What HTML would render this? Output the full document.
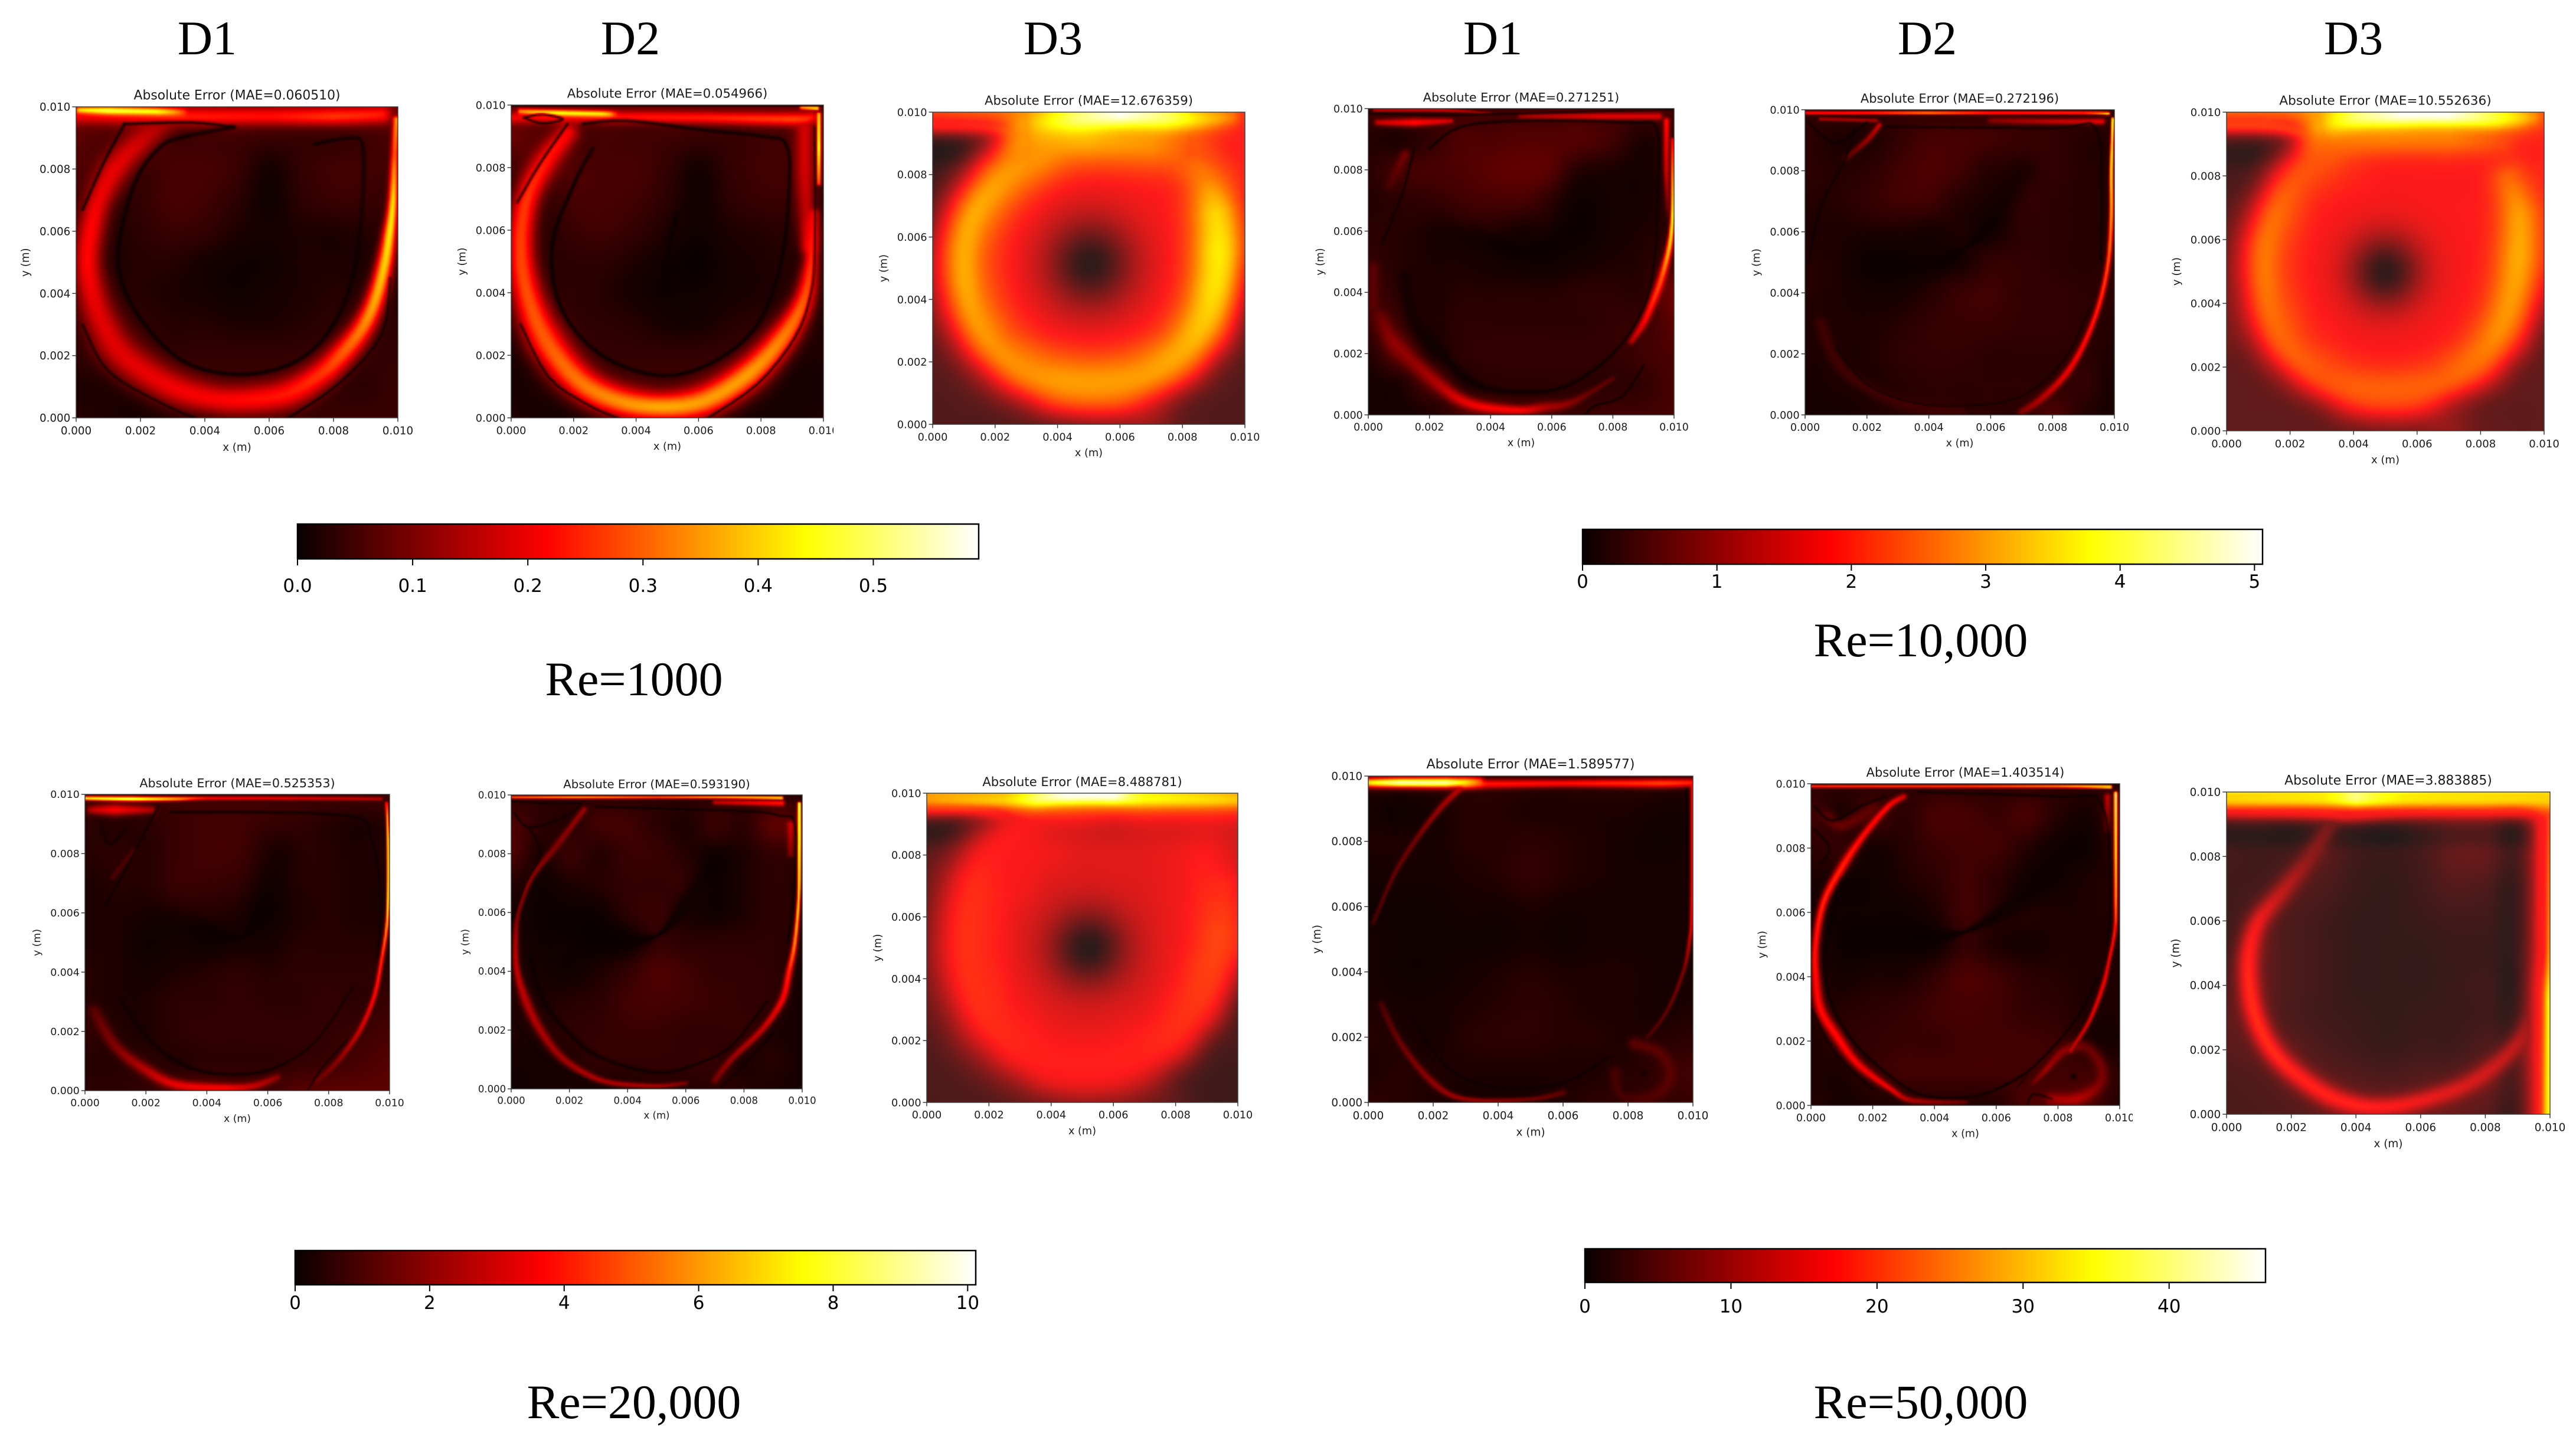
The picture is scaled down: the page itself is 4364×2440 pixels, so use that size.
<!DOCTYPE html>
<html lang="en">
<head>
<meta charset="utf-8">
<title>Absolute Error Heatmaps for Lid-Driven Cavity</title>
<style>
html,body{margin:0;padding:0;background:#fff;}
#page{position:relative;width:4364px;height:2440px;background:#fff;overflow:hidden;}
canvas{position:absolute;display:block;}
svg#axes{position:absolute;left:0;top:0;}
.head{position:absolute;font-family:"Liberation Serif",serif;font-size:82px;line-height:82px;color:#000;transform:translateX(-50%);white-space:nowrap;}
</style>
</head>
<body>
<div id="page">
  <div class="head" style="left:351px;top:24px;">D1</div>
  <div class="head" style="left:1068px;top:24px;">D2</div>
  <div class="head" style="left:1784px;top:24px;">D3</div>
  <div class="head" style="left:2529px;top:24px;">D1</div>
  <div class="head" style="left:3265px;top:24px;">D2</div>
  <div class="head" style="left:3987px;top:24px;">D3</div>
  <div class="head" style="left:1074px;top:1110px;">Re=1000</div>
  <div class="head" style="left:3254px;top:1044px;">Re=10,000</div>
  <div class="head" style="left:1074px;top:2335px;">Re=20,000</div>
  <div class="head" style="left:3254px;top:2335px;">Re=50,000</div>
  <svg id="axes" width="4364" height="2440" viewBox="0 0 4364 2440">
    <defs>
      <linearGradient id="hotGradient" x1="0" x2="1" y1="0" y2="0">
        <stop offset="0" stop-color="#0a0000"/>
        <stop offset="0.365" stop-color="#ff0000"/>
        <stop offset="0.746" stop-color="#ffff00"/>
        <stop offset="1" stop-color="#ffffff"/>
      </linearGradient>
    </defs>
  </svg>
</div>
<script>
/* ---------- shared axis data ---------- */
const axisTickValues = [0, 2, 4, 6, 8, 10];
const axisTickLabels = ['0.000', '0.002', '0.004', '0.006', '0.008', '0.010'];
const panelTitles = ['Absolute Error (MAE=0.060510)', 'Absolute Error (MAE=0.054966)', 'Absolute Error (MAE=12.676359)',
  'Absolute Error (MAE=0.271251)', 'Absolute Error (MAE=0.272196)', 'Absolute Error (MAE=10.552636)',
  'Absolute Error (MAE=0.525353)', 'Absolute Error (MAE=0.593190)', 'Absolute Error (MAE=8.488781)',
  'Absolute Error (MAE=1.589577)', 'Absolute Error (MAE=1.403514)', 'Absolute Error (MAE=3.883885)'];

/* ---------- colourbar data ---------- */
const cbar1000Ticks = [0, 0.1, 0.2, 0.3, 0.4, 0.5];
const cbar1000Labels = ['0.0', '0.1', '0.2', '0.3', '0.4', '0.5'];
const cbar10000Ticks = [0, 1, 2, 3, 4, 5];
const cbar10000Labels = ['0', '1', '2', '3', '4', '5'];
const cbar20000Ticks = [0, 2, 4, 6, 8, 10];
const cbar20000Labels = ['0', '2', '4', '6', '8', '10'];
const cbar50000Ticks = [0, 10, 20, 30, 40];
const cbar50000Labels = ['0', '10', '20', '30', '40'];
const cbarMaxima = [0.5915, 5.06, 10.12, 46.6];

/* ---------- field data: level 0-100 of the colormap; grid rows y=10..0 mm, cols x=0..10 mm;
   ridges rows [x mm, y mm, level, spread mm]; valleys rows [x mm, y mm, spread mm, depth] ---------- */
const re1000D1Grid = [
[15,15,15,15,15,15,15,15,15,15,15],
[12,10,10,8,8,8,7,7,7,8,10],
[10,6,6,9,9,7,2,6,8,8,8],
[6,4,6,9,8,5,1,5,7,7,6],
[3,3,5,7,6,3,2,3,3,4,5],
[3,3,4,4,2,1,1,3,3,3,4],
[4,4,4,3,2,1,2,3,4,4,4],
[5,5,5,4,4,3,3,4,5,5,5],
[5,5,5,5,6,6,6,6,6,6,6],
[3,3,3,5,6,6,6,6,5,5,7],
[4,3,2,3,3,5,6,6,7,7,7]];
const re1000D1Ridges = [
[[0,9.75,36,.28],[3,9.7,40,.28],[6,9.7,38,.28],[8,9.7,44,.28],[9.5,9.75,40,.28]],
[[.1,9.9,70,.1],[1,9.88,82,.12],[2.5,9.85,76,.12],[3.3,9.82,48,.12]],
[[2.6,9.4,24,.4],[1.9,8.8,30,.45],[1.2,8,33,.5],[.7,7,34,.45],[.45,6,37,.45],[.35,5,37,.45],[.5,4,34,.5],[.8,3.1,32,.55],[1.3,2.2,32,.6],[2.1,1.5,33,.6],[3.2,.9,35,.55],[4.4,.6,36,.5],[5.5,.6,38,.5],[6.6,.8,40,.5],[7.6,1.4,44,.45],[8.3,2.1,50,.4],[8.9,2.9,56,.35],[9.3,3.8,62,.3],[9.6,5,68,.25],[9.75,6,72,.2],[9.85,7,70,.15],[9.9,8.5,50,.12],[9.95,9.6,60,.1]]];
const re1000D1Valleys = [
[[4.9,9.35,.07,.8],[3.4,9.05,.08,.8],[2.6,8.7,.08,.8],[1.8,7.5,.07,.9],[1.3,5.2,.07,.9],[1.8,3.5,.07,.9],[3.2,1.9,.07,.9],[4.9,1.4,.07,.9],[6.6,1.7,.07,.9],[7.8,2.7,.07,.9],[8.6,4.5,.08,.7],[8.9,7,.08,.6],[8.9,8.75,.06,.8],[8.5,9,.06,.8],[7.4,8.8,.06,.8]],
[[1.5,9.45,.05,.85],[3.6,9.5,.05,.85],[4.9,9.35,.05,.8]],
[[1.5,9.45,.05,.85],[.85,8.2,.05,.85],[.2,6.7,.05,.85]],
[[.2,3,.04,.8],[1,1.5,.04,.8],[2.7,.45,.04,.8],[3.7,0,.04,.8]],
[[6.6,0,.04,.9],[8.2,1.14,.04,.9],[9.5,2.7,.04,.8],[9.75,4.5,.04,.7]]];

const re1000D2Grid = [
[12,12,12,12,12,12,12,12,12,12,12],
[14,10,8,9,8,8,7,7,8,9,10],
[8,8,10,9,9,6,2,6,8,8,8],
[3,5,9,9,8,5,1,5,7,7,5],
[3,4,7,8,6,3,1,3,4,5,5],
[3,4,5,5,3,1,0,2,3,4,3],
[3,4,5,4,2,1,1,2,3,4,3],
[3,4,5,5,4,2,2,4,5,5,3],
[2,3,5,6,6,6,6,6,6,3,3],
[2,3,3,5,7,7,7,6,4,2,2],
[3,2,2,2,3,4,4,3,2,2,3]];
const re1000D2Ridges = [
[[0,9.6,34,.2],[3,9.62,38,.2],[6,9.6,40,.2],[9,9.55,46,.22],[9.6,9.6,40,.2]],
[[.3,9.8,58,.09],[1.5,9.75,76,.1],[2.9,9.72,72,.1],[3.3,9.7,46,.1]],
[[9.3,9.92,60,.06],[9.8,9.9,78,.06]],
[[9.4,9.2,30,.3],[9.4,8,30,.32],[9.45,6.5,26,.3],[9.5,5.5,30,.25]],
[[1.8,9.1,36,.35],[1.1,8.2,40,.42],[.5,7,44,.42],[.3,5.5,46,.45],[.5,4,48,.5],[1.1,2.5,50,.6],[2.15,1.2,54,.55],[3.4,.55,58,.5],[4.8,.35,62,.45],[6.2,.55,60,.5],[7.6,1.4,60,.5],[8.65,2.5,56,.45],[9.35,3.7,50,.35],[9.6,5,42,.25],[9.68,6.5,36,.18]],
[[9.85,9.7,70,.07],[9.85,8.6,82,.07],[9.85,7.5,50,.07]]];
const re1000D2Valleys = [
[[0,10,.04,.9],[5,10,.04,.9],[10,10,.04,.9]],
[[.4,9.6,.04,.85],[1,9.42,.04,.85],[1.65,9.55,.04,.85],[1,9.7,.04,.85],[.4,9.6,.04,.85]],
[[2.3,9.4,.06,.8],[3.7,9.5,.06,.8],[6.2,9.2,.06,.8],[8.1,9,.06,.8],[8.8,8.75,.06,.85],[8.9,7.45,.07,.75],[8.65,5,.07,.85],[7.9,3,.07,.9],[6.5,1.8,.07,.9],[4.8,1.35,.07,.9],[2.9,2,.07,.9],[1.6,3.5,.07,.9],[1.3,5.5,.07,.9],[2,7.45,.07,.9],[2.6,8.6,.07,.75]],
[[1.8,9.4,.045,.85],[.9,8.1,.045,.85],[.2,6.9,.045,.85]],
[[.3,3,.04,.8],[1.2,1.3,.04,.8],[2.5,.4,.04,.8],[3.4,0,.04,.8]],
[[6.3,0,.04,.85],[7.9,1.1,.04,.85],[9.1,2.6,.04,.85],[9.6,4,.04,.8],[9.72,5.5,.04,.7],[9.72,9.3,.04,.7]],
[[5.3,6.5,.14,.7],[5,5.2,.05,.9],[4.9,4,.2,.55]]];

const re1000D3Grid = [
[45,48,50,55,60,62,62,60,55,48,40],
[3,4,14,36,38,38,38,38,38,38,36],
[3,6,25,38,38,36,36,36,36,38,36],
[4,10,32,36,36,36,36,36,36,36,28],
[6,14,34,36,36,36,36,36,36,36,26],
[8,14,34,36,36,36,36,36,36,36,18],
[8,12,34,36,36,36,36,36,36,34,12],
[8,10,30,36,36,36,36,36,36,28,9],
[8,8,12,34,36,36,36,36,30,12,8],
[8,8,8,12,30,36,34,16,9,8,8],
[8,8,7,7,9,12,14,16,9,8,8]];
const re1000D3Ridges = [
[[0,9.62,38,.25],[1.3,9.6,38,.25],[2.4,9.5,38,.2]],
[[3.2,8.6,58,.85],[2.2,7.8,60,1],[1.4,6.8,62,1],[1.05,5.7,62,1],[1.05,4.6,62,1],[1.35,3.5,60,1],[2,2.5,58,1],[3,1.75,58,1],[4.2,1.4,60,1],[5.5,1.35,60,1],[6.8,1.6,60,1],[7.9,2.3,62,.95],[8.6,3.2,66,.95],[9,4.3,70,.95],[9.15,5.5,72,.95],[9.05,6.8,68,.9],[8.7,7.8,56,.8],[8.1,8.6,48,.7]],
[[3,8.9,58,.8],[5,9.1,62,.9],[7,9,58,.9],[8.2,8.9,48,.7]],
[[3,9.6,60,.5],[4.5,9.8,85,.5],[6,9.95,99,.45],[7.5,9.85,85,.45],[8.5,9.8,70,.4],[9.5,9.85,56,.3]],
[[10,9.5,38,.25],[9.95,7,38,.2],[9.9,5.5,36,.2]]];
const re1000D3Valleys = [
[[5.05,5.15,1.5,.94],[5.05,5.15,1.5,.94]]];

const re10000D1Grid = [
[8,8,8,8,8,8,8,8,8,8,8],
[4,3,6,10,10,11,11,11,8,3,6],
[5,8,9,10,12,13,12,6,3,2,5],
[4,5,6,8,9,9,6,2,2,2,5],
[5,4,4,5,4,2,3,1,2,3,5],
[6,4,3,3,2,1,1,2,3,4,8],
[8,5,3,4,4,4,4,5,5,5,15],
[8,7,3,5,5,5,5,5,6,7,12],
[4,10,3,5,6,6,6,6,6,8,10],
[2,3,8,4,5,5,5,5,5,6,9],
[2,2,3,8,10,8,7,7,8,8,9]];
const re10000D1Ridges = [
[[5,9.75,22,.1],[7.5,9.75,32,.12],[9.5,9.75,32,.12]],
[[.2,9.95,30,.05],[2.5,9.95,32,.05],[4,9.85,18,.04]],
[[.3,9.55,28,.1],[1.5,9.55,38,.14],[2.7,9.6,30,.08]],
[[9.95,9,40,.05],[9.95,8,62,.05],[9.95,6.5,78,.07],[9.85,5.5,68,.1],[9.6,4.5,50,.13],[9.35,3.8,44,.14],[9,3,36,.13],[8.6,2.4,25,.1]],
[[9.75,9.6,40,.1],[9.75,8,30,.1],[9.8,6.5,10,.08]],
[[.4,3.2,14,.25],[.8,2.4,20,.3],[1.5,1.7,20,.3],[2.3,1,25,.25],[3,.5,32,.22],[3.8,.25,36,.18],[5,.15,36,.15],[5.8,.25,24,.18],[6.5,.35,20,.15],[7.2,.7,14,.1],[8,1.2,12,.08]],
[[1.2,8.5,16,.15],[.7,7.5,10,.15]],
[[.15,4.8,12,.2],[.15,3.6,12,.2]]];
const re10000D1Valleys = [
[[1.5,8.7,.04,.8],[1.1,7.2,.04,.8],[.45,5.6,.04,.8]],
[[1.2,4.5,.25,.6],[1.5,3,.25,.6],[2.4,2,.2,.7],[3.5,1,.14,.75],[5,.75,.1,.75],[6.5,.95,.07,.8],[8,2,.05,.8],[9,3.5,.04,.85],[9.35,5,.04,.85],[9.45,7,.04,.8],[9.45,9.3,.04,.8],[8.5,9.55,.05,.8],[5,9.6,.05,.8],[3,9.4,.05,.8],[2,8.7,.05,.8]],
[[0,9.85,.04,.8],[3,9.8,.04,.8],[10,9.98,.03,.7]],
[[7.1,0,.04,.8],[7.4,.3,.04,.8],[8.3,.6,.04,.8],[9,1.6,.04,.8]],
[[2.5,5.9,.7,.55],[4,5.6,.35,.7],[5.2,5.3,.08,.85],[6.5,6,.7,.7],[7,7.5,.8,.55]]];

const re10000D2Grid = [
[6,6,6,6,6,6,6,6,6,6,6],
[5,3,3,6,9,9,8,7,6,4,4],
[5,4,5,8,10,8,4,6,6,4,4],
[4,4,6,8,8,4,3,6,5,4,4],
[3,3,3,3,2,3,2,5,5,4,4],
[4,3,1,1,2,2,6,6,5,4,5],
[4,3,2,2,4,7,8,6,6,5,5],
[3,3,3,4,6,7,7,6,6,5,4],
[3,3,3,5,6,6,5,5,5,5,3],
[2,3,3,4,5,5,5,5,5,6,2],
[2,2,3,4,5,5,5,5,10,4,2]];
const re10000D2Ridges = [
[[0,9.9,42,.05],[2,9.9,46,.05],[4,9.9,62,.05],[6,9.9,46,.05],[9,9.9,48,.05],[9.8,9.88,78,.05]],
[[6,9.65,18,.1],[8,9.62,28,.1],[9.6,9.62,34,.1]],
[[.5,9.7,24,.06],[2.3,9.65,24,.06]],
[[9.95,9.7,85,.05],[9.9,8,75,.06],[9.9,6.5,62,.07],[9.8,5,50,.08],[9.5,3.6,42,.09],[9,2.3,38,.1],[8.4,1.3,34,.12],[7.6,.5,25,.13],[7,.1,18,.12]],
[[2.4,9.5,30,.08],[2,9,22,.1],[1.3,8.4,10,.1]],
[[.5,3,8,.2],[1.2,1.5,8,.2],[3,.4,8,.2],[5,.1,8,.2]]];
const re10000D2Valleys = [
[[1.6,9.4,.04,.8],[1.3,8.4,.04,.8],[.5,6.8,.04,.8],[.1,5,.04,.7]],
[[2.6,9.45,.04,.8],[8,9.4,.04,.8],[9.4,9.4,.04,.8],[9.6,7,.04,.8],[9.55,5,.04,.8]],
[[1,2.2,.03,.7],[2,1,.03,.7],[3.5,.4,.03,.7],[5,.3,.03,.7],[6.5,.45,.03,.7],[7.6,1,.03,.7],[8.5,2,.03,.7],[9.2,3.5,.03,.7]],
[[.1,9.6,.04,.7],[1,8.9,.04,.8],[2,9.6,.04,.8]],
[[2.3,5,.7,.55],[4,4.9,.4,.7],[5.2,5.5,.07,.85],[6,6.3,.35,.65],[7,8,.55,.55]]];

const re10000D3Grid = [
[50,50,52,60,62,62,62,62,60,55,45],
[6,6,14,36,38,38,38,38,38,38,38],
[6,8,25,38,38,36,36,36,36,38,38],
[8,12,32,36,36,36,36,36,36,36,36],
[10,16,34,36,36,36,36,36,36,36,34],
[12,16,34,36,36,36,36,36,36,36,30],
[12,14,34,36,36,36,36,36,36,34,20],
[12,12,30,36,36,36,36,36,36,28,12],
[10,10,14,34,36,36,36,36,30,14,10],
[10,10,10,14,30,36,34,18,12,10,10],
[10,10,10,10,12,14,15,18,12,10,10]];
const re10000D3Ridges = [
[[0,9.62,44,.25],[1.3,9.6,44,.25],[2.4,9.4,40,.2]],
[[3,8.6,46,.7],[2.2,7.8,48,.8],[1.6,6.8,52,.85],[1.25,5.7,54,.85],[1.25,4.6,54,.85],[1.5,3.5,52,.9],[2.1,2.5,50,.85],[3.1,1.75,48,.8],[4.2,1.35,50,.75],[5.5,1.3,50,.75],[6.8,1.6,50,.75],[7.9,2.3,54,.8],[8.6,3.2,58,.8],[9,4.3,60,.8],[9.2,5.5,62,.8],[9.2,6.8,60,.75],[8.9,7.8,52,.6]],
[[3,9,50,.7],[5,9.2,55,.6],[7,9.2,55,.6],[8.6,9.1,46,.5]],
[[3,9.6,62,.5],[4,9.85,85,.45],[5.5,9.95,99,.42],[7,9.95,99,.4],[8.5,9.85,80,.4],[9.6,9.85,60,.3]]];
const re10000D3Valleys = [
[[5,5,1.2,.93],[5,5,1.2,.93]]];

const re20000D1Grid = [
[8,8,8,8,8,8,8,8,8,8,8],
[5,4,5,7,8,8,7,6,4,3,4],
[4,5,4,7,8,8,5,5,4,3,4],
[3,4,4,7,7,6,3,4,4,3,3],
[3,3,3,4,4,3,1,3,4,3,3],
[3,3,1,2,1,2,2,4,4,4,4],
[4,3,2,3,4,5,4,5,5,5,5],
[4,3,3,5,5,6,5,5,6,5,7],
[6,4,3,5,6,6,6,6,6,7,9],
[4,4,5,4,5,5,5,6,7,9,11],
[5,5,6,8,10,9,8,11,12,12,12]];
const re20000D1Ridges = [
[[0,9.87,72,.07],[1.5,9.85,86,.08],[3,9.85,62,.07],[4,9.87,38,.06],[6.5,9.87,34,.06],[9.7,9.85,26,.06]],
[[.2,9.48,26,.14],[1,9.48,36,.2],[2.2,9.48,24,.12]],
[[9.9,9.7,45,.05],[9.95,8.5,76,.05],[9.95,6.5,80,.05],[9.9,5.5,62,.06],[9.75,4.5,44,.07],[9.5,3.2,38,.08],[9,2,30,.09],[8.3,1,20,.09],[7.6,.3,14,.08]],
[[.3,2.7,12,.2],[1,1.5,18,.2],[2,.7,26,.2],[3,.2,34,.18],[4.5,.1,36,.14],[5.5,.15,28,.14],[6.3,.45,20,.12]],
[[1.6,8.1,10,.1],[.9,7.2,10,.08]]];
const re20000D1Valleys = [
[[2.4,9.6,.04,.75],[1.5,7.8,.04,.75],[.7,6.3,.04,.75]],
[[.5,9.1,.04,.6],[.8,8.3,.05,.7],[1.3,8.8,.04,.7]],
[[2.8,9.4,.05,.8],[8.5,9.3,.05,.8],[9.4,8.5,.04,.8],[9.7,6.5,.04,.8],[9.6,4.5,.04,.8]],
[[1.2,3,.1,.5],[2.2,1.6,.1,.6],[3.5,.75,.07,.75],[5,.55,.07,.75],[6.3,.8,.05,.75],[7.6,1.7,.04,.7],[8.8,3.5,.04,.7]],
[[7.3,0,.03,.8],[7.8,.8,.03,.8],[8.6,1.7,.03,.8]],
[[2.5,5.6,.7,.55],[4,5.4,.35,.7],[5.2,5.2,.07,.85],[6,6.5,.55,.6],[6.4,8,.7,.5]]];

const re20000D2Grid = [
[5,5,5,5,5,5,5,5,5,5,5],
[10,5,4,8,8,5,3,7,5,12,10],
[10,3,7,4,7,7,4,2,3,6,5],
[4,1,3,4,6,6,6,1,3,5,4],
[2,1,1,1,5,7,3,1,3,5,4],
[3,1,1,0,1,6,5,5,5,5,4],
[3,2,1,3,6,10,8,6,6,5,2],
[3,3,4,5,8,9,8,7,6,5,2],
[3,3,5,6,7,7,6,6,6,3,2],
[2,2,3,6,6,6,6,6,3,4,2],
[1,2,2,2,3,4,4,5,4,3,2]];
const re20000D2Ridges = [
[[0,9.92,48,.05],[2.3,9.92,60,.05],[5,9.92,48,.05],[7,9.92,60,.05],[9.3,9.9,78,.05]],
[[7,9.75,28,.08],[9.3,9.72,40,.1]],
[[9.9,9.7,92,.06],[9.9,8,80,.07],[9.88,6.5,72,.06],[9.75,5,60,.08],[9.55,4,42,.12],[9.3,3,36,.13],[8.6,2,28,.12],[7.6,1.05,22,.12],[7,.3,16,.12]],
[[9.6,9,30,.12],[9.6,8,18,.12]],
[[2.5,9.5,22,.1],[1.5,8.2,18,.12],[.7,7.2,20,.1],[.25,6,18,.08],[.15,5,25,.1],[.2,4,28,.12],[.5,3,26,.18],[1,2,24,.17],[1.7,1.1,22,.15],[2.6,.5,24,.12],[3.5,.2,24,.1],[5,.1,24,.08],[6,.2,16,.08]]];
const re20000D2Valleys = [
[[0,9.8,.03,.75],[1.5,9.7,.03,.75],[2.4,9.7,.03,.75],[1.7,9.2,.03,.75],[.6,8.9,.04,.8],[.1,9.4,.04,.8]],
[[.6,8.9,.04,.8],[1,8,.04,.75],[.5,7,.04,.75],[.05,5.8,.04,.75]],
[[2.9,9.6,.04,.8],[8,9.45,.04,.8],[9.2,9.3,.04,.8],[9.75,9,.04,.8],[9.7,6.5,.04,.8],[9.5,5,.04,.8]],
[[.65,4.5,.1,.7],[1.1,3,.1,.7],[2,1.9,.08,.75],[3,1.1,.08,.75],[5,.55,.06,.75],[6.5,.9,.05,.8],[7.6,1.5,.04,.8],[8.8,3,.04,.8]],
[[.1,2.3,.03,.7],[1.2,1,.03,.7],[2.6,.3,.03,.7]],
[[7.2,.05,.03,.8],[8,.8,.03,.8],[9,1.9,.04,.8]],
[[1.5,5.8,.7,.55],[3.5,5.1,.45,.7],[5,5.2,.06,.9],[6,6.3,.3,.75],[7,7.7,.45,.65]]];

const re20000D3Grid = [
[58,58,60,64,66,66,66,64,62,60,58],
[5,5,14,32,34,33,31,33,33,34,32],
[7,8,24,34,34,32,32,32,34,36,30],
[7,12,30,34,32,32,32,32,34,36,30],
[7,16,32,32,32,32,32,32,34,36,32],
[8,16,32,32,32,32,32,32,34,36,34],
[8,14,32,32,32,32,32,32,34,36,18],
[8,10,28,32,32,32,32,32,34,28,8],
[7,8,12,32,32,32,32,32,28,10,6],
[7,7,8,14,30,34,32,20,9,5,5],
[7,7,7,8,11,14,14,12,9,5,5]];
const re20000D3Ridges = [
[[0,9.55,38,.25],[1.3,9.55,38,.25],[2.4,9.35,36,.2]],
[[3,8.8,36,.8],[2.2,8,37,1.1],[1.6,7,40,1.2],[1.35,5.7,41,1.2],[1.35,4.6,41,1.2],[1.65,3.5,41,1.2],[2.2,2.5,40,1.2],[3.2,1.7,38,1.15],[4.4,1.3,37,1.1],[5.6,1.3,37,1.1],[6.8,1.6,38,1.05],[7.9,2.3,40,.9],[8.6,3.2,42,.85],[9.1,4.3,44,.85],[9.4,5.5,45,.8],[9.4,6.8,40,.8]],
[[0,9.85,60,.3],[2.5,9.8,68,.25],[3.5,9.85,85,.3],[4.5,9.95,99,.3],[6,9.95,99,.3],[7,9.85,76,.28],[10,9.8,66,.25]]];
const re20000D3Valleys = [
[[5.2,5,1.3,.95],[5.2,5,1.3,.95]]];

const re50000D1Grid = [
[5,5,5,5,5,5,5,5,5,5,5],
[2,1,2,4,4,3,3,3,3,2,2],
[3,3,2,4,4,5,4,3,2,1,2],
[2,2,2,3,4,6,4,3,2,2,2],
[1,1,1,2,2,3,2,2,2,2,2],
[2,1,1,1,1,2,1,2,2,2,2],
[2,1,1,2,3,4,3,3,3,2,2],
[3,2,2,3,4,5,4,3,3,2,3],
[4,3,2,4,5,5,4,4,3,4,5],
[3,4,3,3,3,3,3,3,4,6,8],
[5,4,3,2,2,2,3,5,5,6,7]];
const re50000D1Ridges = [
[[3,9.75,40,.15],[6,9.78,38,.12],[9,9.78,46,.14],[10,9.8,40,.12]],
[[0,9.8,70,.15],[1,9.8,92,.15],[2.4,9.8,90,.16],[3.4,9.82,52,.14]],
[[9.97,9.7,38,.05],[9.97,6,38,.06],[9.9,5,30,.06],[9.7,4,18,.06],[9.2,2.8,14,.06],[8.6,2,10,.06]],
[[2.8,9.6,28,.1],[2.2,9,22,.1],[1.5,8.1,16,.09],[.8,7,14,.07],[.15,5.5,9,.07]],
[[.4,3,10,.1],[1,1.8,15,.1],[2,.6,20,.12],[3,.1,22,.08],[5,.1,16,.07],[6,.3,12,.1]],
[[8.2,1.8,12,.2],[9,1.5,12,.2],[9.3,.8,12,.2],[8.8,.2,11,.2],[7.8,.2,9,.15],[7.6,.9,9,.2]]];
const re50000D1Valleys = [
[[8.5,.9,.1,.8],[8.5,.9,.1,.8]],
[[9.8,9.6,.04,.8],[9.82,7,.04,.8]],
[[.5,9.3,.05,.5],[.9,8.2,.06,.6],[.5,9.2,.06,.3]],
[[1.3,2.7,.05,.5],[2.4,1.1,.05,.6],[4,.45,.05,.7],[6,.6,.05,.7],[7.4,1.4,.04,.75]]];

const re50000D2Grid = [
[5,5,5,5,5,5,5,5,5,5,5],
[8,3,8,5,9,9,7,9,4,2,8],
[5,6,2,4,7,8,8,4,1,1,6],
[3,1,1,3,5,8,5,2,2,3,4],
[2,1,1,1,3,8,5,4,3,3,4],
[4,1,1,1,1,6,3,2,3,3,3],
[4,2,3,3,6,10,8,5,4,3,3],
[3,4,5,6,8,9,8,6,5,3,3],
[3,5,6,7,7,8,8,8,7,3,2],
[3,3,6,8,8,8,8,8,8,8,5],
[4,2,3,3,4,4,4,10,10,10,4]];
const re50000D2Ridges = [
[[0,9.92,42,.05],[5,9.92,45,.05],[8,9.92,55,.05],[9.7,9.9,82,.05]],
[[9.87,9.7,90,.06],[9.87,8,75,.06],[9.87,6.5,62,.06],[9.85,5.5,42,.06],[9.65,4.5,36,.06],[9.45,3.7,36,.08],[9,2.6,32,.07],[8.4,1.7,28,.07]],
[[3,9.6,30,.1],[2.5,9.3,38,.1],[1.7,8.4,38,.12],[1,7.4,42,.15],[.4,6.3,42,.13],[.15,5,40,.12],[.15,4,38,.15],[.3,3,38,.18],[.8,2.2,38,.18],[1.5,1.3,36,.15],[2.6,.5,34,.1],[3.3,.15,24,.1],[5,.1,14,.07]],
[[7.8,.2,22,.2],[8.6,.2,26,.2],[9.3,.6,18,.2],[9.4,1.2,16,.2],[8.9,1.8,14,.2],[8.2,1.7,20,.15],[7.6,1.1,22,.1],[7.2,.7,14,.08]],
[[.5,9,12,.2],[1,8.7,14,.2],[2,9.2,12,.2]],
[[9.6,9.6,28,.1],[9.6,8.6,14,.1]]];
const re50000D2Valleys = [
[[8.5,.9,.1,.85],[8.5,.9,.1,.85]],
[[.1,8.6,.04,.8],[.6,8,.04,.8],[.3,7.5,.04,.7]],
[[.1,9.3,.04,.7],[.7,8.85,.05,.8],[1.6,9.3,.04,.75],[2.4,9.6,.04,.75]],
[[3.5,9.75,.04,.8],[8,9.6,.04,.8],[9.4,9.4,.04,.8],[9.7,7,.04,.8],[9.6,5,.04,.8]],
[[1,7,.08,.5],[.5,5,.08,.7],[.55,3.5,.05,.75],[1.2,2.2,.05,.8],[2.2,1.2,.05,.8],[3.5,.35,.04,.8],[5,.25,.04,.8],[6,.5,.04,.8],[7.2,1.2,.04,.8],[8.6,2.7,.04,.8],[9.3,4,.04,.8]],
[[.02,3,.04,.7],[.8,1.6,.04,.7],[2,.5,.04,.7]],
[[7,0,.04,.8],[7.2,.35,.04,.8],[7.8,.2,.04,.6]],
[[6,.5,.03,.6],[7,1,.03,.6],[6.7,.6,.03,.6]],
[[1.5,5.1,.7,.55],[3.5,5.2,.4,.75],[5,5.4,.06,.9],[6.5,6.2,.35,.8],[7.8,7.2,.6,.65]]];

const re50000D3Grid = [
[72,72,72,74,80,78,74,72,72,72,70],
[7,7,6,9,8,6,9,12,12,8,36],
[6,5,6,9,5,4,6,11,11,7,36],
[5,6,8,7,4,3,5,8,7,5,37],
[5,9,7,5,3,3,4,5,5,5,38],
[6,10,7,5,3,3,3,4,4,5,40],
[8,10,7,5,3,3,3,4,5,5,50],
[10,10,7,5,4,3,4,4,5,7,50],
[9,10,10,7,5,4,5,5,8,10,50],
[7,8,10,10,9,8,9,10,12,9,50],
[7,7,8,10,14,14,12,12,9,7,50]];
const re50000D3Ridges = [
[[0,9.42,34,.2],[3,9.36,36,.2],[3.8,9.3,34,.22],[6,9.42,36,.2],[10,9.42,38,.2]],
[[0,9.82,68,.26],[3,9.82,72,.26],[4,9.85,88,.28],[5.5,9.82,72,.26],[10,9.82,68,.26]],
[[3.2,9,14,.25],[2.6,8,18,.3],[1.8,7,25,.32],[1,6,34,.32],[.7,5,38,.35],[.7,4,40,.35],[.9,3,40,.35],[1.4,2,40,.35],[2.2,1.2,38,.35],[3.2,.55,38,.35],[4.2,.25,38,.3],[5.2,.25,36,.3],[6.3,.5,33,.3],[7.4,.9,30,.3],[8.3,1.5,28,.3],[9,2.2,25,.3],[9.5,3,18,.3]],
[[9.75,9.3,36,.2],[9.75,5,36,.2],[9.75,0,36,.2]],
[[9.97,9.2,44,.1],[9.97,5,58,.1],[9.97,3.5,74,.14],[9.97,0,74,.18]]];
const re50000D3Valleys = [];

/* ---------- panel layout ---------- */
const panels = [
 {id:'re1000-d1',  L:129,  R:674,  T:181,  B:708,  grid:re1000D1Grid,  ridges:re1000D1Ridges,  valleys:re1000D1Valleys,  lift:0},
 {id:'re1000-d2',  L:866,  R:1395, T:178,  B:708,  grid:re1000D2Grid,  ridges:re1000D2Ridges,  valleys:re1000D2Valleys,  lift:0, cropX:1412},
 {id:'re1000-d3',  L:1580, R:2109, T:190,  B:719,  grid:re1000D3Grid,  ridges:re1000D3Ridges,  valleys:re1000D3Valleys,  lift:26},
 {id:'re10000-d1', L:2318, R:2836, T:184,  B:703,  grid:re10000D1Grid, ridges:re10000D1Ridges, valleys:re10000D1Valleys, lift:0},
 {id:'re10000-d2', L:3058, R:3582, T:186,  B:703,  grid:re10000D2Grid, ridges:re10000D2Ridges, valleys:re10000D2Valleys, lift:0},
 {id:'re10000-d3', L:3772, R:4310, T:190,  B:730,  grid:re10000D3Grid, ridges:re10000D3Ridges, valleys:re10000D3Valleys, lift:26},
 {id:'re20000-d1', L:144,  R:660,  T:1346, B:1848, grid:re20000D1Grid, ridges:re20000D1Ridges, valleys:re20000D1Valleys, lift:0},
 {id:'re20000-d2', L:866,  R:1359, T:1347, B:1845, grid:re20000D2Grid, ridges:re20000D2Ridges, valleys:re20000D2Valleys, lift:0},
 {id:'re20000-d3', L:1570, R:2097, T:1344, B:1868, grid:re20000D3Grid, ridges:re20000D3Ridges, valleys:re20000D3Valleys, lift:26},
 {id:'re50000-d1', L:2318, R:2868, T:1315, B:1868, grid:re50000D1Grid, ridges:re50000D1Ridges, valleys:re50000D1Valleys, lift:0},
 {id:'re50000-d2', L:3068, R:3591, T:1328, B:1873, grid:re50000D2Grid, ridges:re50000D2Ridges, valleys:re50000D2Valleys, lift:0, cropX:3613},
 {id:'re50000-d3', L:3772, R:4320, T:1342, B:1888, grid:re50000D3Grid, ridges:re50000D3Ridges, valleys:re50000D3Valleys, lift:26}
];
const colorbars = [
 {id:'re1000',  L:504,  R:1658, T:888,  B:947,  ticks:cbar1000Ticks,  labels:cbar1000Labels,  max:cbarMaxima[0], labelY:992},
 {id:'re10000', L:2681, R:3833, T:897,  B:956,  ticks:cbar10000Ticks, labels:cbar10000Labels, max:cbarMaxima[1], labelY:985},
 {id:'re20000', L:500,  R:1653, T:2119, B:2177, ticks:cbar20000Ticks, labels:cbar20000Labels, max:cbarMaxima[2], labelY:2207},
 {id:'re50000', L:2685, R:3838, T:2116, B:2173, ticks:cbar50000Ticks, labels:cbar50000Labels, max:cbarMaxima[3], labelY:2213}
];

/* ---------- helpers ---------- */
const NS = 'http://www.w3.org/2000/svg';
const svg = document.getElementById('axes');
const page = document.getElementById('page');
const FIELD = 200;
const DOMAIN = 10;

function xScale(p, v) { return p.L + (p.R - p.L) * v / DOMAIN; }
function yScale(p, v) { return p.B - (p.B - p.T) * v / DOMAIN; }
function fieldX(i) { return (i + 0.5) / FIELD * DOMAIN; }
function fieldY(j) { return DOMAIN - (j + 0.5) / FIELD * DOMAIN; }
function fieldCol(x) { return x / DOMAIN * FIELD - 0.5; }
function fieldRow(y) { return (DOMAIN - y) / DOMAIN * FIELD - 0.5; }

function svgEl(tag, attrs, parent) {
  const el = document.createElementNS(NS, tag);
  for (const k in attrs) el.setAttribute(k, attrs[k]);
  (parent || svg).appendChild(el);
  return el;
}

function hot(t, lift) {
  t = Math.max(0, Math.min(1, t));
  let r = t < 0.365 ? 10 + 245 * t / 0.365 : 255;
  let g = t < 0.365 ? 0 : t < 0.746 ? 255 * (t - 0.365) / 0.381 : 255;
  let b = t < 0.746 ? 0 : 255 * (t - 0.746) / 0.254;
  if (lift) {
    const a = lift * Math.max(0, Math.min(1, (0.55 - t) / 0.18));
    r += a * (1 - r / 255); g += a * (1 - g / 255); b += a * (1 - b / 255);
  }
  return [r, g, b];
}

function cr(a, b, c, d, t) {
  return 0.5 * (2 * b + (c - a) * t + (2 * a - 5 * b + 4 * c - d) * t * t + (3 * b - a - 3 * c + d) * t * t * t);
}

function sampleGrid(grid, x, y) {
  const gx = x, gy = DOMAIN - y;
  const ix = Math.min(9, Math.floor(gx)), iy = Math.min(9, Math.floor(gy));
  const fx = gx - ix, fy = gy - iy;
  const rowVals = [];
  for (let r = -1; r <= 2; r++) {
    const row = grid[Math.max(0, Math.min(10, iy + r))];
    rowVals.push(cr(row[Math.max(0, ix - 1)], row[ix], row[ix + 1], row[Math.min(10, ix + 2)], fx));
  }
  return cr(rowVals[0], rowVals[1], rowVals[2], rowVals[3], fy);
}

/* smooth a polyline: channels 0,1 spline; others linear */
function smoothLine(rows) {
  if (rows.length < 3) return rows;
  const out = [];
  const n = rows.length;
  for (let i = 0; i < n - 1; i++) {
    const p0 = rows[Math.max(0, i - 1)], p1 = rows[i], p2 = rows[i + 1], p3 = rows[Math.min(n - 1, i + 2)];
    for (let s = 0; s < 4; s++) {
      const t = s / 4;
      out.push([cr(p0[0], p1[0], p2[0], p3[0], t), cr(p0[1], p1[1], p2[1], p3[1], t),
        p1[2] + (p2[2] - p1[2]) * t, p1[3] + (p2[3] - p1[3]) * t]);
    }
  }
  out.push(rows[n - 1]);
  return out;
}

/* for one polyline: nearest normalised distance and interpolated channels per cell */
function traceLine(rows, chanA, chanW, visit) {
  const pts = smoothLine(rows);
  const best = new Float32Array(FIELD * FIELD).fill(1e9);
  const val = new Float32Array(FIELD * FIELD);
  const touched = [];
  const segs = Math.max(1, pts.length - 1);
  for (let s = 0; s < segs; s++) {
    const a = pts[s], b = pts[Math.min(s + 1, pts.length - 1)];
    const reach = 2.6 * Math.max(a[chanW], b[chanW]);
    const i0 = Math.max(0, Math.floor(fieldCol(Math.min(a[0], b[0]) - reach)));
    const i1 = Math.min(FIELD - 1, Math.ceil(fieldCol(Math.max(a[0], b[0]) + reach)));
    const j0 = Math.max(0, Math.floor(fieldRow(Math.max(a[1], b[1]) + reach)));
    const j1 = Math.min(FIELD - 1, Math.ceil(fieldRow(Math.min(a[1], b[1]) - reach)));
    const dx = b[0] - a[0], dy = b[1] - a[1], len2 = dx * dx + dy * dy || 1e-6;
    for (let j = j0; j <= j1; j++) {
      const y = fieldY(j);
      for (let i = i0; i <= i1; i++) {
        const x = fieldX(i);
        let t = ((x - a[0]) * dx + (y - a[1]) * dy) / len2;
        t = t < 0 ? 0 : t > 1 ? 1 : t;
        const ex = x - a[0] - dx * t, ey = y - a[1] - dy * t;
        const w = a[chanW] + (b[chanW] - a[chanW]) * t;
        const q = (ex * ex + ey * ey) / (w * w);
        const idx = j * FIELD + i;
        if (q < best[idx]) {
          if (best[idx] > 1e8) touched.push(idx);
          best[idx] = q;
          val[idx] = a[chanA] + (b[chanA] - a[chanA]) * t;
        }
      }
    }
  }
  for (let k = 0; k < touched.length; k++) {
    const idx = touched[k];
    visit(idx, Math.exp(-best[idx]), val[idx]);
  }
}

function computeField(p) {
  const Z = new Float32Array(FIELD * FIELD);
  for (let j = 0; j < FIELD; j++) {
    for (let i = 0; i < FIELD; i++) {
      Z[j * FIELD + i] = Math.max(0, sampleGrid(p.grid, fieldX(i), fieldY(j)));
    }
  }
  p.ridges.forEach(function (line) {
    traceLine(line, 2, 3, function (idx, g, level) {
      if (level > Z[idx]) Z[idx] += (level - Z[idx]) * g;
    });
  });
  p.valleys.forEach(function (line) {
    traceLine(line, 3, 2, function (idx, g, depth) {
      Z[idx] *= 1 - depth * g;
    });
  });
  return Z;
}

function drawHeatmap(p) {
  const c = document.createElement('canvas');
  
  
  c.width = FIELD; c.height = FIELD;
  c.style.left = xScale(p, 0) + 'px';
  c.style.top = yScale(p, DOMAIN) + 'px';
  c.style.width = (xScale(p, DOMAIN) - xScale(p, 0)) + 'px';
  c.style.height = (yScale(p, 0) - yScale(p, DOMAIN)) + 'px';
  const ctx = c.getContext('2d');
  const img = ctx.createImageData(FIELD, FIELD);
  const Z = computeField(p);
  for (let n = 0; n < Z.length; n++) {
    const col = hot(Z[n] / 100, p.lift);
    img.data[n * 4] = col[0];
    img.data[n * 4 + 1] = col[1];
    img.data[n * 4 + 2] = col[2];
    img.data[n * 4 + 3] = 255;
  }
  ctx.putImageData(img, 0, 0);
  page.insertBefore(c, svg);
}

function drawAxes(p, idx) {
  const s = (p.R - p.L) / 531;
  const tickFont = 17.8 * s, titleFont = 21.3 * s, tickLen = 6.5 * s;
  const g = svgEl('g', {'font-family': '"DejaVu Sans", sans-serif', fill: '#1c1c1c'});
  
  

  const frame = svgEl('rect', {x: p.L, y: p.T, width: p.R - p.L, height: p.B - p.T, fill: 'none', stroke: '#3a3a3a', 'stroke-width': 1.4}, g);
  
  

  axisTickValues.forEach(function (v, i) {
    const xp = xScale(p, v), yp = yScale(p, v);
    const xt = svgEl('line', {x1: xp, x2: xp, y1: p.B, y2: p.B + tickLen, stroke: '#333', 'stroke-width': 1.4}, g);
    
    
    const yt = svgEl('line', {x1: p.L - tickLen, x2: p.L, y1: yp, y2: yp, stroke: '#333', 'stroke-width': 1.4}, g);
    
    
    const xl = svgEl('text', {x: xp, y: p.B + 21 * s + tickFont * 0.36, 'text-anchor': 'middle', 'font-size': tickFont}, g);
    xl.textContent = axisTickLabels[i];
    
    
    const yl = svgEl('text', {x: p.L - 9.5 * s, y: yp + tickFont * 0.36, 'text-anchor': 'end', 'font-size': tickFont}, g);
    yl.textContent = axisTickLabels[i];
    
    
  });

  const title = svgEl('text', {x: (p.L + p.R) / 2, y: p.T - 20 * s + titleFont * 0.36, 'text-anchor': 'middle', 'font-size': titleFont}, g);
  title.textContent = panelTitles[idx];
  
  

  const xlabel = svgEl('text', {x: (p.L + p.R) / 2, y: p.B + 48 * s + tickFont * 0.36, 'text-anchor': 'middle', 'font-size': tickFont}, g);
  xlabel.textContent = 'x (m)';
  
  

  const ylx = p.L - 78 * s, yly = (p.T + p.B) / 2;
  const ylabel = svgEl('text', {x: ylx, y: yly, 'text-anchor': 'middle', 'font-size': tickFont, transform: 'rotate(-90 ' + ylx + ' ' + yly + ')'}, g);
  ylabel.textContent = 'y (m)';
  
  

  if (p.cropX) {
    const crop = svgEl('rect', {x: p.cropX, y: p.B + 8, width: 60, height: 34, fill: '#fff'}, g);
    
    
  }
}

function drawColorbar(cb) {
  const g = svgEl('g', {'font-family': '"DejaVu Sans", sans-serif', fill: '#000'});
  
  
  const bar = svgEl('rect', {x: cb.L, y: cb.T, width: cb.R - cb.L, height: cb.B - cb.T, fill: 'url(#hotGradient)', stroke: '#000', 'stroke-width': 2.5}, g);
  
  
  cb.ticks.forEach(function (v, i) {
    const x = cb.L + (cb.R - cb.L) * v / cb.max;
    const t = svgEl('line', {x1: x, x2: x, y1: cb.B, y2: cb.B + 11, stroke: '#000', 'stroke-width': 2}, g);
    
    
    const l = svgEl('text', {x: x, y: cb.labelY + 11, 'text-anchor': 'middle', 'font-size': 31}, g);
    l.textContent = cb.labels[i];
    
    
  });
}

panels.forEach(function (p, i) {
  drawHeatmap(p);
  drawAxes(p, i);
});
colorbars.forEach(drawColorbar);
</script>
</body>
</html>
